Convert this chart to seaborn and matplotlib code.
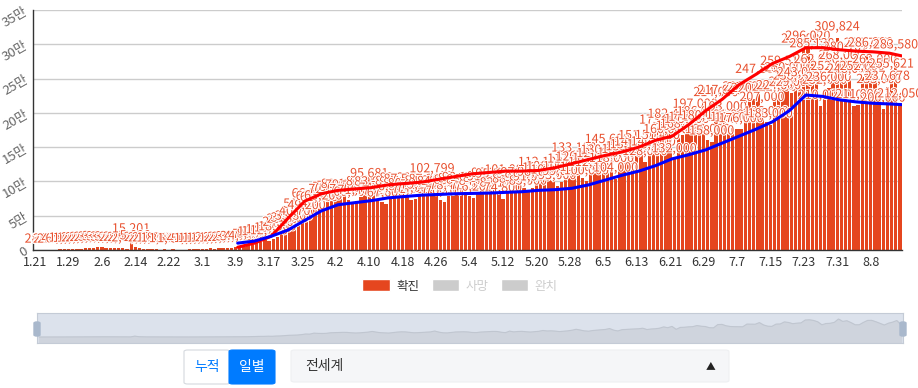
import numpy as np
import pandas as pd
import matplotlib
matplotlib.use('Agg')
import matplotlib.pyplot as plt
import matplotlib.patheffects as pe
from matplotlib.patches import Patch, FancyBboxPatch
import seaborn as sns

# daily confirmed cases, 1.21 ~ 8.15
dates = [f"{d.month}.{d.day}" for d in pd.date_range('2020-01-21', '2020-08-15')]
cases = [
    282, 32, 267, 265, 474, 694, 784, 1795, 1472, 1753, 2008,
    2127, 2604, 2834, 3239, 3924, 3722, 3205, 3405, 2672, 2996, 2549, 2068,
    15201,
    5090, 2641, 2009, 2051, 1891, 1749, 394, 1020, 648, 1018, 414, 508, 427, 1161, 1294, 1512,
    1598, 1804, 2357, 1880, 2223, 2762, 2785, 3633,
    3900, 4200, 4700, 7100, 8000, 10800, 11200, 14000, 12500, 16600, 18300, 24800,
    29400, 31000, 33800, 40700, 51400, 49200, 66300, 62500, 61000, 63200, 72700,
    75800, 77200, 80100, 79000, 72500, 68800, 71400, 77500, 83900, 95681,
    83600, 74500, 70300, 67600, 76800, 84300, 89200, 87500, 80900, 72800,
    74500, 79200, 84900, 87300, 102799, 84200, 72600, 70100, 78400, 86300,
    88400, 90100, 86500, 78300, 76200, 84700, 88900, 91200, 96300, 95200,
    82100, 74800, 101080, 88000, 95000, 97000, 90000, 85000, 91000, 98000,
    112100, 104000, 106000, 101000, 93000, 99000, 106000, 117000, 133100, 120000, 105000,
    100000, 112000, 118000, 125000, 130000, 145600, 118000, 104000, 126000, 131000,
    135000, 138000, 141900, 151200, 128000, 138000, 142000, 151400, 173800, 160000,
    182400, 132000, 165000, 168000, 175000, 178000, 197000, 186000, 180000, 160000,
    158000, 214000, 217000, 193000, 181000, 178000, 177000, 176000, 222000, 221000,
    220000, 247800, 207000, 186000, 183000, 222000, 224000, 259518, 250000, 229000,
    238000, 243000, 292000, 296020, 285130, 262000, 210000, 232000, 236000, 252000, 309824,
    268000, 280107, 248000, 210000, 211000, 252000, 285700, 286290, 262000, 233000,
    206000, 237678, 255621, 283580, 212050,
]

# trend lines (read every 4 days)
line_dates = ['3.9', '3.13', '3.17', '3.21', '3.25', '3.29', '4.2', '4.6', '4.10', '4.14',
              '4.18', '4.22', '4.26', '4.30', '5.4', '5.8', '5.12', '5.16', '5.20', '5.24',
              '5.28', '6.1', '6.5', '6.9', '6.13', '6.17', '6.21', '6.25', '6.29', '7.3',
              '7.7', '7.11', '7.15', '7.19', '7.23', '7.27', '7.31', '8.4', '8.8', '8.12', '8.15']
red_line = [4000, 10000, 20000, 46000, 71000, 82000, 87000, 89000, 91000, 95000,
            97000, 99000, 103000, 107000, 111000, 113000, 115000, 115000, 116000, 120000,
            126000, 132000, 138000, 143000, 150000, 160000, 166000, 183000, 203000, 220000,
            241000, 256000, 272000, 282000, 295000, 295000, 292000, 290000, 289000, 287000, 283000]
blue_line = [10000, 13000, 20000, 29000, 43000, 57000, 66000, 69000, 72000, 76000,
             78000, 80000, 81000, 82000, 82500, 83000, 84000, 85000, 87000, 88000,
             90000, 95000, 102000, 109000, 115000, 123000, 133000, 139000, 146000, 156000,
             166000, 176000, 187000, 203000, 226000, 224000, 219000, 216000, 214000, 213000, 212000]

legend_labels = ['확진', '사망', '완치']

sns.set_style('white')
plt.rcParams['font.family'] = ['Noto Sans CJK KR', 'DejaVu Sans']

W, H = 918, 388
fig = plt.figure(figsize=(W / 100, H / 100), dpi=100)

def box(x0, y0, x1, y1):
    return [x0 / W, 1 - y1 / H, (x1 - x0) / W, (y1 - y0) / H]

bar_color = '#e5461f'
ax = fig.add_axes(box(33, 10, 902, 250))

df = pd.DataFrame({'pos': np.arange(len(dates)), 'cases': cases})
sns.barplot(data=df, x='pos', y='cases', native_scale=True, color=bar_color,
            saturation=1, width=0.8, linewidth=0, edgecolor=bar_color, ax=ax)
ax.bar_label(ax.containers[0], labels=[f"{v:,}" for v in cases], padding=3,
             fontsize=9, color='#e8502e', zorder=4,
             path_effects=[pe.withStroke(linewidth=1.5, foreground='white')])

lpos = [dates.index(d) + 0.5 for d in line_dates]
sns.lineplot(x=lpos, y=red_line, color='#ff0000', lw=2.2, ax=ax, zorder=6)
sns.lineplot(x=lpos, y=blue_line, color='#0000ff', lw=2.2, ax=ax, zorder=6)

ax.set_xlim(-0.5, len(dates) - 0.5)
ax.set_ylim(0, 350000)
ax.set_yticks(np.arange(0, 350001, 50000))
ax.set_yticklabels(['0'] + [f"{v // 10000}만" for v in range(50000, 350001, 50000)],
                   rotation=30, color='#666', fontsize=9.5)
ax.yaxis.grid(True, color='#cccccc', lw=1)
ax.set_axisbelow(True)
major = list(range(0, len(dates), 8))
ax.set_xticks(major)
ax.set_xticklabels([dates[i] for i in major], fontsize=9, color='#333')
ax.set_xticks([i - 0.5 for i in major] + [len(dates) - 0.5], minor=True)
ax.tick_params(axis='x', which='major', length=0, pad=4)
ax.tick_params(axis='x', which='minor', length=4, color='#333', width=1)
ax.tick_params(axis='y', length=0, pad=2)
ax.set_xlabel('')
ax.set_ylabel('')
for s in ['top', 'right']:
    ax.spines[s].set_visible(False)
for s in ['left', 'bottom']:
    ax.spines[s].set_color('#333')
    ax.spines[s].set_linewidth(1)

# legend
handles = [Patch(facecolor=bar_color), Patch(facecolor='#cccccc'), Patch(facecolor='#cccccc')]
leg = fig.legend(handles, legend_labels, loc='center', bbox_to_anchor=(460 / W, 1 - 286 / H),
                 ncol=3, frameon=False, fontsize=9, handlelength=2.2, handleheight=1.1,
                 handletextpad=0.5, columnspacing=1.0)
for t, c in zip(leg.get_texts(), ['#333', '#cccccc', '#cccccc']):
    t.set_color(c)

# zoom slider with data shadow
sl = fig.add_axes(box(37, 313, 903, 343))
sl.set_facecolor('#dce2ec')
lo, hi = min(cases), max(cases)
rng = hi - lo
sl.fill_between(df['pos'], cases, lo - rng, color='#cfd4dd')
sns.lineplot(x=df['pos'], y=cases, color='#c0c6d0', lw=0.8, ax=sl)
sl.set_xlim(-0.5, len(dates) - 0.5)
sl.set_ylim(lo - rng * 6 / 18, hi + rng * 6 / 18)
sl.set_xticks([])
sl.set_yticks([])
sl.set_xlabel('')
sl.set_ylabel('')
for s in sl.spines.values():
    s.set_color('#c4cbd6')
for hx in (37, 903):
    fig.patches.append(FancyBboxPatch(((hx - 3) / W, 1 - 336 / H), 6 / W, 14 / H,
                                      boxstyle='round,pad=0,rounding_size=0.003',
                                      transform=fig.transFigure, facecolor='#a9b8cc',
                                      edgecolor='#a9b8cc'))

# buttons and dropdown
def rbox(x0, y0, x1, y1, fc, ec):
    fig.patches.append(FancyBboxPatch((x0 / W, 1 - y1 / H), (x1 - x0) / W, (y1 - y0) / H,
                                      boxstyle='round,pad=0,rounding_size=0.004',
                                      transform=fig.transFigure, facecolor=fc, edgecolor=ec, lw=0.8))

rbox(184, 350, 230, 384, 'white', '#d5d9de')
rbox(229, 350, 275, 384, '#007bff', '#007bff')
rbox(291, 350, 729, 382, '#f5f6f8', '#eef0f2')
fig.text(207 / W, 1 - 367 / H, '누적', color='#007bff', fontsize=10, ha='center', va='center')
fig.text(252 / W, 1 - 367 / H, '일별', color='white', fontsize=10, ha='center', va='center')
fig.text(305 / W, 1 - 366 / H, '전세계', color='#333', fontsize=10, ha='left', va='center')
fig.text(711 / W, 1 - 366 / H, '▲', color='#222', fontsize=7, ha='center', va='center')

fig.savefig('out.png', dpi=100)
